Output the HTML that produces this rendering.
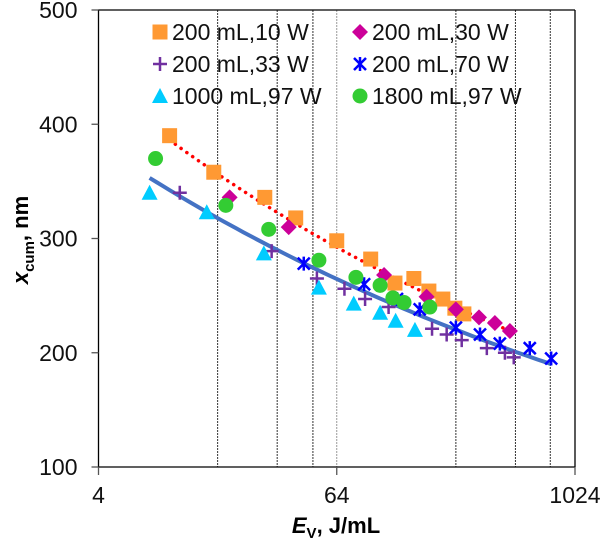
<!DOCTYPE html>
<html><head><meta charset="utf-8"><style>
body{margin:0;background:#fff;}
svg{display:block;font-family:"Liberation Sans",Arial,sans-serif;}
</style></head><body>
<svg id="chart" width="603" height="542">
<g id="grid"></g>
<g id="fits"></g>
<g id="marks"></g>
<g id="axes"></g>
<g id="legend"></g>
<text x="0" y="0" transform="translate(28,240) rotate(-90)" text-anchor="middle" font-size="22" font-weight="bold"><tspan font-style="italic">x</tspan><tspan font-size="15" dy="6">cum</tspan><tspan dy="-6">, nm</tspan></text>
<text x="336" y="533" text-anchor="middle" font-size="22" font-weight="bold"><tspan font-style="italic">E</tspan><tspan font-size="15" dy="5">V</tspan><tspan dy="-5">, J/mL</tspan></text>
</svg>
<script>
const xTicks=[4,64,1024];
const yTicks=[100,200,300,400,500];
const refLines=[16,32,48.5,64,256,512,768];
const sq_E=[9.15,15.3,27.7,39.7,64,95,126,157,187,220,253,281];
const sq_Y=[390,358,336,318,298,282,261,265,254,247,239,234];
const dm_E=[18.4,36.6,111,182,256,335,403,480];
const dm_Y=[336,310,268,249,238,231,226,219];
const pl_E=[10.3,30,50.8,70,89,117,194,230,274,367,453,502];
const pl_Y=[340,289,265,256,247,240,221,216,211,204,200,196];
const xx_E=[43.6,88,129,168,256,339,427,605,776];
const xx_Y=[278,260,247,238,222,216,208,204,195];
const tr_E=[7.25,14.1,27.4,52,78,106,127,159];
const tr_Y=[340,323,287,257,243,235,228,220];
const ci_E=[7.77,17.6,29,52,80,106,123,140,189];
const ci_Y=[370,329,308,281,266,259,248,244,240];
const fitBlue=[459,-0.1325,7.25,776];
const fitRed=[530,-0.143,9.15,480];

const L=98.5,R=575,T=10,B=467;
const X=e=>L+(Math.log2(e)-2)*(R-L)/8;
const Y=v=>B-(v-100)*(B-T)/400;
const NS="http://www.w3.org/2000/svg";
function mk(tag,parent,attrs){const el=document.createElementNS(NS,tag);for(const k in attrs)el.setAttribute(k,attrs[k]);parent.appendChild(el);return el;}
const grid=document.getElementById('grid'),fits=document.getElementById('fits'),marks=document.getElementById('marks'),axes=document.getElementById('axes'),legend=document.getElementById('legend');

refLines.forEach((e,i)=>{const el=mk('line',grid,{x1:X(e),x2:X(e),y1:T,y2:B,stroke:i==3?'#999':'#333','stroke-width':1,'stroke-dasharray':'2,1'});

});

function fitPath(f){let d='';for(let i=0;i<=60;i++){const e=f[2]*Math.pow(f[3]/f[2],i/60);d+=(i?'L':'M')+X(e).toFixed(1)+','+Y(f[0]*Math.pow(e,f[1])).toFixed(1);}return d;}
let fb=mk('path',fits,{d:fitPath(fitBlue),fill:'none',stroke:'#4472c4','stroke-width':4});


let fr=mk('path',fits,{d:fitPath(fitRed),fill:'none',stroke:'#ff0000','stroke-width':3.5,'stroke-dasharray':'0.1,7','stroke-linecap':'round'});



function marker(kind,g,x,y){
 if(kind=='sq')return mk('rect',g,{x:x-7.5,y:y-7.5,width:15,height:15,fill:'#ff9933'});
 if(kind=='dm')return mk('path',g,{d:`M${x},${y-8}L${x+8},${y}L${x},${y+8}L${x-8},${y}Z`,fill:'#cc0099'});
 if(kind=='pl')return mk('path',g,{d:`M${x-7},${y}H${x+7}M${x},${y-7}V${y+7}`,stroke:'#7030a0','stroke-width':2.5});
 if(kind=='xx')return mk('path',g,{d:`M${x-6},${y-6}L${x+6},${y+6}M${x-6},${y+6}L${x+6},${y-6}M${x},${y-7}V${y+7}`,stroke:'#0000ff','stroke-width':2.5});
 if(kind=='tr')return mk('path',g,{d:`M${x},${y-8}L${x+8},${y+7}L${x-8},${y+7}Z`,fill:'#00ccff'});
 if(kind=='ci')return mk('circle',g,{cx:x,cy:y,r:7.5,fill:'#33cc33'});
}
const series=[['sq',sq_E,sq_Y],['dm',dm_E,dm_Y],['pl',pl_E,pl_Y],['xx',xx_E,xx_Y],['tr',tr_E,tr_Y],['ci',ci_E,ci_Y]];
series.forEach(s=>{s[1].forEach((e,i)=>{const el=marker(s[0],marks,X(e),Y(s[2][i]));

});});

mk('path',axes,{d:`M${L},${T}V${B}H${R}`,fill:'none',stroke:'#000','stroke-width':1.3});
mk('line',axes,{x1:R,x2:R,y1:T,y2:B,stroke:'#000','stroke-width':1.3});
mk('line',axes,{x1:L,x2:R,y1:T,y2:T,stroke:'#000','stroke-width':1.3});
yTicks.forEach(v=>{mk('line',axes,{x1:L-7,x2:L,y1:Y(v),y2:Y(v),stroke:'#555','stroke-width':1.3});
const t=mk('text',axes,{x:L-21,y:Y(v)+8,'text-anchor':'end','font-size':23,fill:'#111'});t.textContent=v;

});
xTicks.forEach(e=>{mk('line',axes,{x1:X(e),x2:X(e),y1:B,y2:B+8,stroke:'#555','stroke-width':1.3});
const t=mk('text',axes,{x:X(e),y:B+36,'text-anchor':'middle','font-size':23,fill:'#111'});t.textContent=e;

});

const legItems=[['sq','200 mL,10 W',160,32],['dm','200 mL,30 W',360,32],['pl','200 mL,33 W',160,64],['xx','200 mL,70 W',360,64],['tr','1000 mL,97 W',160,96],['ci','1800 mL,97 W',360,96]];
legItems.forEach(it=>{const g=mk('g',legend,{});


marker(it[0],g,it[2],it[3]);
const t=mk('text',g,{x:it[2]+12,y:it[3]+8,'font-size':23,fill:'#111'});t.textContent=it[1];});
</script>
</body></html>
